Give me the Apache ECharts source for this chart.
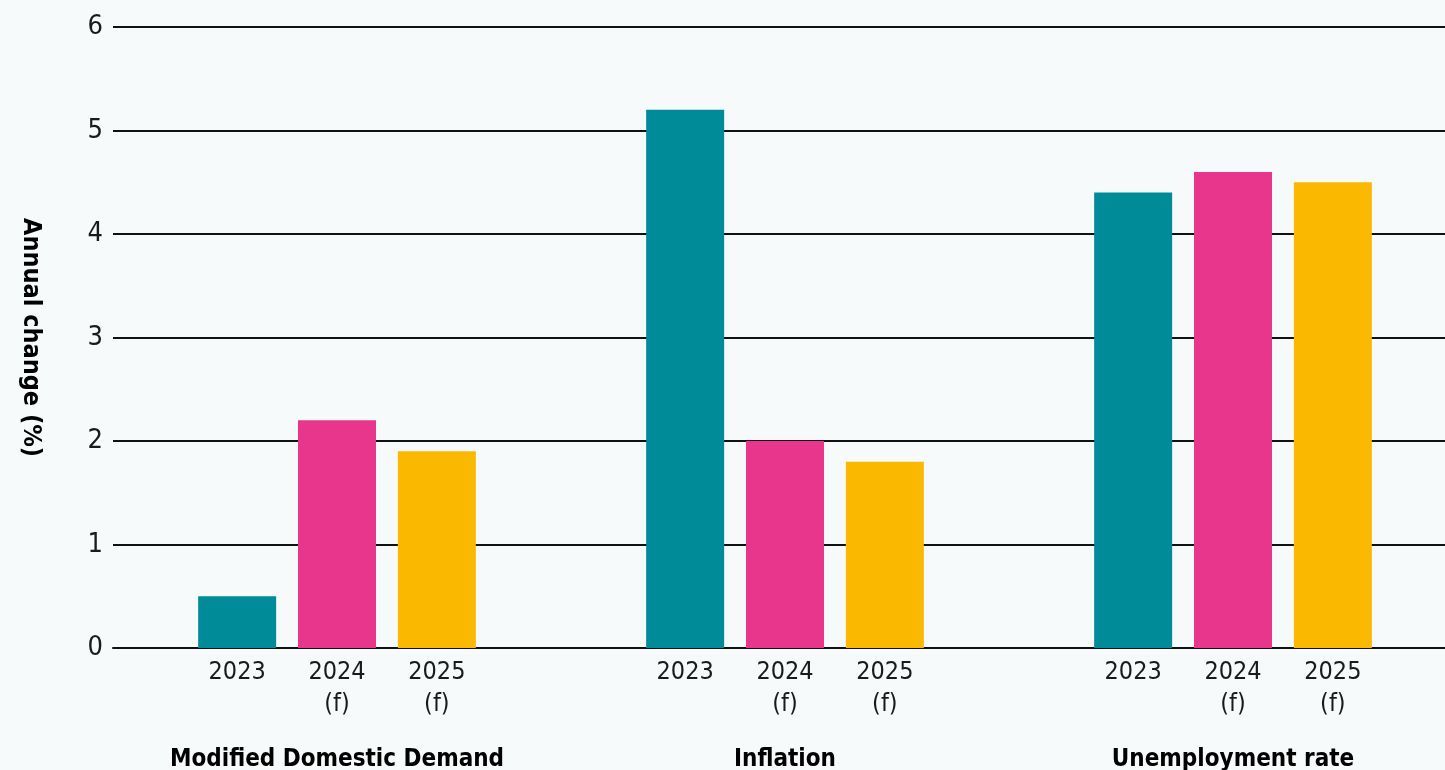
<!DOCTYPE html>
<html>
<head>
<meta charset="utf-8">
<script src="https://cdn.jsdelivr.net/npm/echarts@6/dist/echarts.min.js"></script>
<style>
html,body{margin:0;padding:0;background:#f6fafa;}
#c{width:1445px;height:770px;}
</style>
</head>
<body>
<div id="c"></div>
<script>
const categories = ['Modified Domestic Demand', 'Inflation', 'Unemployment rate'];
const seriesNames = ['2023', '2024\n(f)', '2025\n(f)'];
const values2023 = [0.5, 5.2, 4.4];
const values2024 = [2.2, 2.0, 4.6];
const values2025 = [1.9, 1.8, 4.5];
const yTicks = [0, 1, 2, 3, 4, 5, 6];
const colors = ['#008b98', '#e8368c', '#fbb800'];

const FONT = "'Liberation Sans Narrow', 'DejaVu Sans Condensed', sans-serif";
const chart = echarts.init(document.getElementById('c'));

function mkSeries(name, data, color) {
  return {
    name: name,
    type: 'bar',
    data: data,
    barWidth: 78,
    barGap: '28%',
    itemStyle: { color: color },
    label: {
      show: true,
      position: 'bottom',
      distance: 8,
      formatter: () => name,
      color: '#1a1a1a',
      fontFamily: FONT,
      fontSize: 25,
      lineHeight: 32,
      align: 'center'
    }
  };
}

chart.setOption({
  backgroundColor: '#f6fafa',
  animation: false,
  grid: { left: 113, right: -12, top: 27, bottom: 122, containLabel: false, outerBoundsMode: 'none' },
  xAxis: {
    type: 'category',
    data: categories,
    axisLine: { show: true, lineStyle: { color: '#111', width: 2 } },
    axisTick: { show: false },
    axisLabel: {
      interval: 0,
      margin: 97,
      color: '#000',
      fontFamily: FONT,
      fontWeight: 'bold',
      fontSize: 24,
      lineHeight: 30
    }
  },
  yAxis: {
    type: 'value',
    min: 0,
    max: 6,
    interval: 1,
    name: 'Annual change (%)',
    nameLocation: 'middle',
    nameRotate: -90,
    nameGap: 70,
    nameTextStyle: {
      color: '#000',
      fontFamily: FONT,
      fontWeight: 'bold',
      fontSize: 25
    },
    axisLine: { show: false },
    axisTick: { show: false },
    splitLine: { show: true, lineStyle: { color: '#111', width: 2 } },
    axisLabel: {
      margin: 10,
      color: '#1a1a1a',
      fontFamily: FONT,
      fontSize: 27,
      formatter: v => yTicks.includes(v) ? String(v) : ''
    }
  },
  series: [
    mkSeries(seriesNames[0], values2023, colors[0]),
    mkSeries(seriesNames[1], values2024, colors[1]),
    mkSeries(seriesNames[2], values2025, colors[2])
  ]
});
</script>
</body>
</html>
